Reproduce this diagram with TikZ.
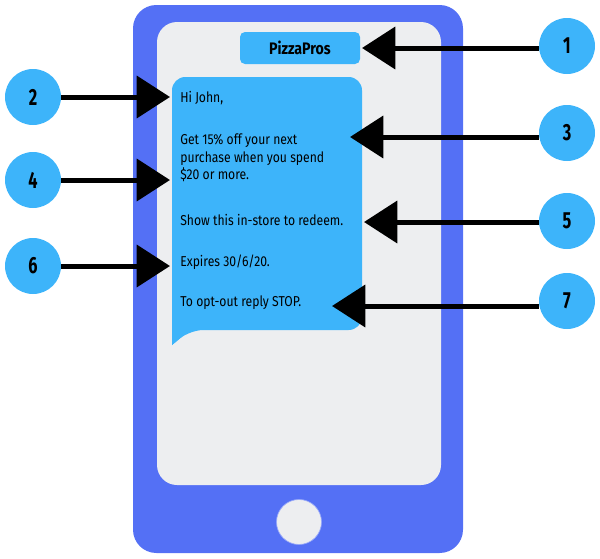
\documentclass[tikz,border=0pt]{standalone}
\usepackage{fontspec}
\setmainfont[FakeStretch=0.85]{Fira Sans}
\newfontfamily\numfont[FakeStretch=0.7]{Fira Sans}
\usetikzlibrary{arrows.meta}
\definecolor{phoneblue}{RGB}{84,112,245}
\definecolor{screengray}{RGB}{237,238,240}
\definecolor{bubbleblue}{RGB}{61,180,250}
\begin{document}
\begin{tikzpicture}[x=0.6pt, y=-0.6pt,
  numdot/.style={circle, fill=bubbleblue, minimum size=33.6pt, inner sep=0pt, font=\numfont\bfseries\fontsize{14}{14}\selectfont},
  pointer/.style={line width=3pt, -{Triangle[length=20pt, width=25pt]}},
  msg/.style={anchor=west, font=\fontsize{8.6}{10.5}\selectfont, align=left, inner sep=0pt}]
  \useasboundingbox (0,0) rectangle (600,559);
  % phone
  \fill[phoneblue, rounded corners=14pt] (133,5) rectangle (463,553);
  \fill[screengray, rounded corners=12pt] (157,22) rectangle (441,485);
  \node[circle, draw=phoneblue!60!white, fill=screengray, minimum size=27pt] (home) at (299,522) {};
  % header and bubble
  \fill[bubbleblue, rounded corners=3pt] (240,32) rectangle (360,64);
  \node[font=\bfseries\fontsize{10}{10}\selectfont] (brand) at (300,48) {PizzaPros};
  \fill[bubbleblue, rounded corners=8pt] (172,345) -- (172,77) -- (362,77) -- (362,330) -- (190,330) [sharp corners] -- cycle;
  \fill[bubbleblue] (172,320) -- (172,345) -- (190,330) -- (180,320) -- cycle;
  \node[msg] (hi) at (180,98) {Hi John,};
  \node[msg] (offer) at (180,158) {Get 15\% off your next\\purchase when you spend\\\$20 or more.};
  \node[msg] (show) at (180,220) {Show this in-store to redeem.};
  \node[msg] (exp) at (180,262) {Expires 30/6/20.};
  \node[msg] (stop) at (180,303) {To opt-out reply STOP.};
  % callouts
  \node[numdot] (n1) at (567,46) {1};
  \node[numdot] (n2) at (33,97) {2};
  \node[numdot] (n3) at (567,133) {3};
  \node[numdot] (n4) at (33,180) {4};
  \node[numdot] (n5) at (567,221) {5};
  \node[numdot] (n6) at (33,266) {6};
  \node[numdot] (n7) at (567,301) {7};
  \coordinate (t1) at (362,48);
  \coordinate (t2) at (170,97);
  \coordinate (t3) at (350,137);
  \coordinate (t4) at (170,180);
  \coordinate (t5) at (364,222);
  \coordinate (t6) at (170,266);
  \coordinate (t7) at (332,306);
  \draw[pointer] (n1.west |- t1) -- (t1);
  \draw[pointer] (n2.east |- t2) -- (t2);
  \draw[pointer] (n3.west |- t3) -- (t3);
  \draw[pointer] (n4.east |- t4) -- (t4);
  \draw[pointer] (n5.west |- t5) -- (t5);
  \draw[pointer] (n6.east |- t6) -- (t6);
  \draw[pointer] (n7.west |- t7) -- (t7);
\end{tikzpicture}
\end{document}
